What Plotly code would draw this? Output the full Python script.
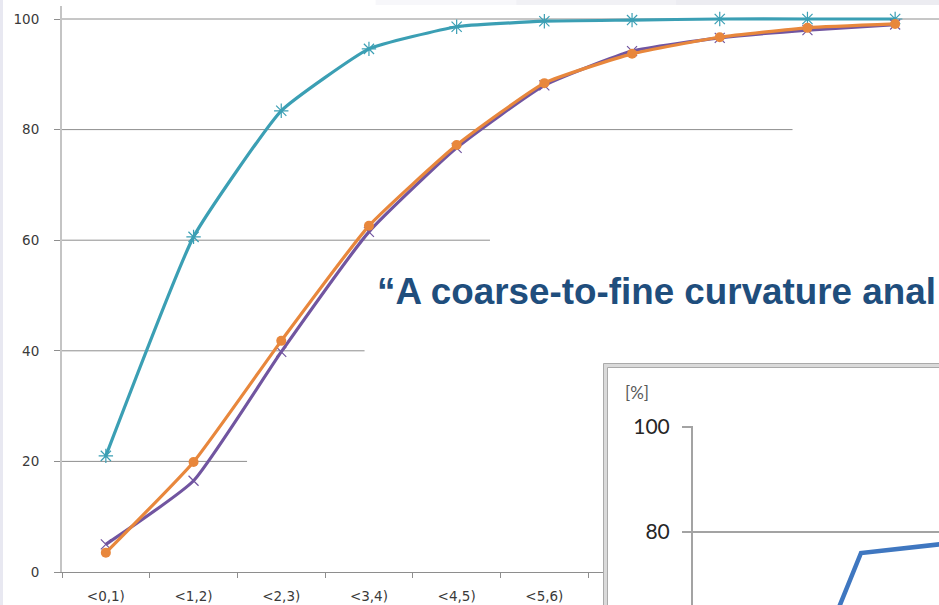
import plotly.graph_objects as go

# ---- main chart data: cumulative share [%] per interval ----
categories = ["<0,1)", "<1,2)", "<2,3)", "<3,4)", "<4,5)", "<5,6)",
              "<6,7)", "<7,8)", "<8,9)", "<9,10)"]
teal_vals = [21.0, 60.6, 83.4, 94.6, 98.6, 99.6, 99.8, 100.0, 100.0, 100.0]
purple_vals = [5.0, 16.5, 39.8, 61.5, 76.7, 88.0, 94.2, 96.6, 98.0, 99.0]
orange_vals = [3.5, 19.9, 41.8, 62.6, 77.2, 88.4, 93.7, 96.7, 98.4, 99.1]
y_ticks = [0, 20, 40, 60, 80, 100]

# ---- inset chart data ----
inset_x = [0, 1, 2]
inset_vals = [29.0, 76.0, 78.1]
inset_ticks = [80, 100]

W, H = 939, 605


def px_x(p):
    return p / W


def px_y(p):
    # pixel row measured from the top -> paper fraction
    return (H - p) / H


TEAL = "#3B9FB4"
PURPLE = "#7155A0"
ORANGE = "#E8873C"
BLUE = "#3F77C0"
GRID = "#8E8E8E"

fig = go.Figure()

fig.add_trace(go.Scatter(
    x=categories, y=teal_vals, mode="lines+markers",
    line=dict(color=TEAL, width=3.2, shape="spline", smoothing=0.4),
    marker=dict(symbol="asterisk-open", size=12, color=TEAL,
                line=dict(color=TEAL, width=1.2)),
    showlegend=False, xaxis="x", yaxis="y"))
fig.add_trace(go.Scatter(
    x=categories, y=purple_vals, mode="lines+markers",
    line=dict(color=PURPLE, width=3.2, shape="spline", smoothing=0.45),
    marker=dict(symbol="x-thin-open", size=10, color=PURPLE,
                line=dict(color=PURPLE, width=1.2)),
    showlegend=False, xaxis="x", yaxis="y"))
fig.add_trace(go.Scatter(
    x=categories, y=orange_vals, mode="lines+markers",
    line=dict(color=ORANGE, width=3.2, shape="spline", smoothing=0.45),
    marker=dict(symbol="circle", size=10, color=ORANGE),
    showlegend=False, xaxis="x", yaxis="y"))

# empty panel that provides the white card behind the inset
fig.add_trace(go.Scatter(x=[], y=[], xaxis="x2", yaxis="y2",
                         showlegend=False, hoverinfo="skip"))

# inset series
fig.add_trace(go.Scatter(
    x=inset_x, y=inset_vals, mode="lines",
    line=dict(color=BLUE, width=4.5),
    showlegend=False, xaxis="x3", yaxis="y3"))

tick_font = dict(family="DejaVu Sans", size=13.5, color="#3A3A3A")

fig.update_layout(
    width=W, height=H,
    margin=dict(l=0, r=0, t=0, b=0),
    paper_bgcolor="white", plot_bgcolor="white",
    hovermode=False,
    xaxis=dict(
        domain=[px_x(62), 1], range=[-0.5, 9.5], type="category",
        anchor="y", showgrid=False, zeroline=False,
        showline=True, linecolor=GRID, linewidth=1,
        ticks="outside", tickson="boundaries", ticklen=5, tickcolor=GRID,
        tickfont=tick_font, ticklabelstandoff=12, automargin=False),
    yaxis=dict(
        domain=[px_y(572), px_y(6)], range=[0, 102.35],
        anchor="x", showgrid=False, zeroline=False,
        showline=True, linecolor="#C4C4C4", linewidth=2,
        tickvals=y_ticks, ticks="outside", ticklen=6, tickcolor=GRID,
        tickfont=tick_font, ticklabelstandoff=12, automargin=False),
    xaxis2=dict(domain=[px_x(603), 1], range=[0, 1], anchor="y2",
                visible=False, fixedrange=True),
    yaxis2=dict(domain=[0, px_y(363)], range=[0, 1], anchor="x2",
                visible=False, fixedrange=True),
    xaxis3=dict(domain=[px_x(693), 1], range=[-0.68, 1.78], anchor="y3",
                visible=False, fixedrange=True),
    yaxis3=dict(
        domain=[0, px_y(426)], range=[66.09, 100.19], anchor="x3",
        tickvals=inset_ticks, showgrid=True, gridcolor="#A3A3A3", gridwidth=2,
        zeroline=False, showline=True, linecolor="#A3A3A3", linewidth=2,
        ticks="outside", ticklen=9, tickcolor="#A3A3A3", tickwidth=2,
        tickfont=dict(family="Lato", size=21, color="#262626"),
        ticklabelstandoff=8, automargin=False),
)

# partial horizontal grid lines of the main chart (they stop short of the text)
grid_ends = {20: 1.61, 40: 2.95, 60: 4.38, 80: 7.83, 100: 9.5}
for val, x_end in grid_ends.items():
    fig.add_shape(type="line", xref="x", yref="y", layer="below",
                  x0=-0.5, x1=x_end, y0=val, y1=val,
                  line=dict(color=GRID, width=1))

# light band along the top edge and the slide's left edge
for x0, col in [(0.4, "#F7F7FA"), (0.55, "#F1F1F5"), (0.72, "#ECECF1")]:
    fig.add_shape(type="rect", xref="paper", yref="paper", layer="below",
                  x0=x0, x1=1.01, y0=px_y(5), y1=1.01,
                  line=dict(width=0), fillcolor=col)
fig.add_shape(type="rect", xref="paper", yref="paper", layer="below",
              x0=-0.01, x1=px_x(3), y0=-0.01, y1=1.01,
              line=dict(width=0), fillcolor="#E8E8F1")

# frame of the inset card
fig.add_shape(type="rect", xref="paper", yref="paper", layer="above",
              x0=px_x(605.5), x1=1.05, y0=-0.05, y1=px_y(365.5),
              line=dict(color="#DADADA", width=4), fillcolor="rgba(0,0,0,0)")
for edge in (603.5, 607.5):
    off = edge - 603.5
    fig.add_shape(type="rect", xref="paper", yref="paper", layer="above",
                  x0=px_x(edge), x1=1.05, y0=-0.05, y1=px_y(363.5 + off),
                  line=dict(color="#AAAAAA", width=1),
                  fillcolor="rgba(0,0,0,0)")

fig.add_annotation(xref="paper", yref="paper", x=px_x(637), y=px_y(393),
                   text="[%]", showarrow=False, xanchor="center",
                   yanchor="middle",
                   font=dict(family="Lato", size=17, color="#595959"))

fig.add_annotation(xref="paper", yref="paper", x=px_x(375), y=px_y(291),
                   text="“A coarse-to-fine curvature anal", showarrow=False,
                   xanchor="left", yanchor="middle",
                   font=dict(family="Liberation Sans", size=36.8,
                             color="#1F4E7D", weight="bold"))

fig.write_html("out.html")
